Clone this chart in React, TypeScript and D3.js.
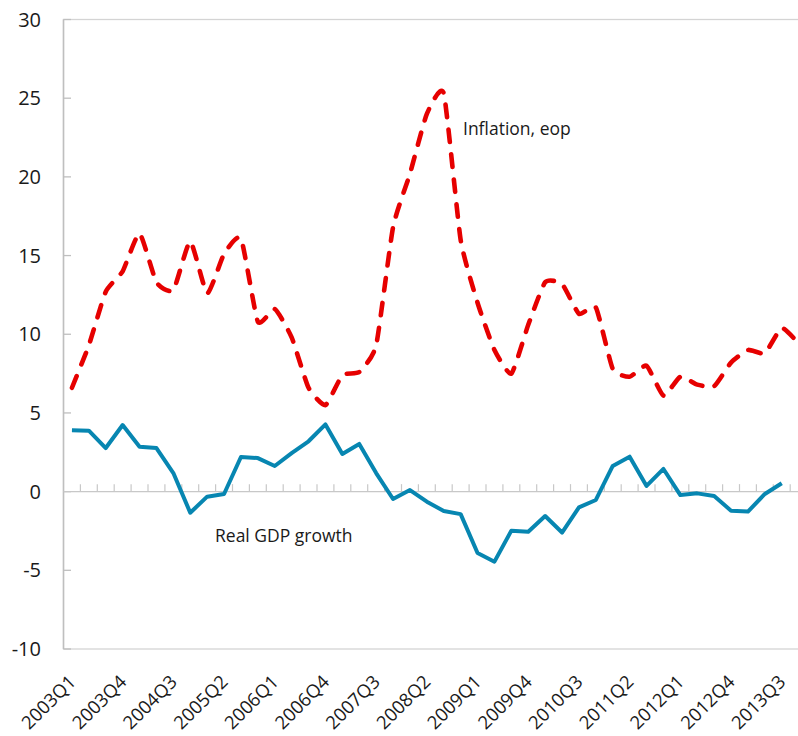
import React from "react";
import * as d3 from "d3";

// Quarters 2003Q1 .. 2013Q4
const years = d3.range(2003, 2014);
const quarters: string[] = years.flatMap((y) => [1, 2, 3, 4].map((q) => `${y}Q${q}`));

// Inflation, end of period (%)
const inflation: number[] = [
  6.6, 9.3, 12.7, 14.0, 16.4, 13.3, 12.8, 15.9, 12.6, 15.1, 16.1, 10.8,
  11.6, 9.8, 6.6, 5.5, 7.4, 7.6, 9.3, 16.8, 20.2, 24.0, 25.3, 16.0,
  12.0, 9.0, 7.5, 10.6, 13.3, 13.2, 11.3, 11.7, 7.8, 7.3, 8.0, 6.1,
  7.3, 6.8, 6.7, 8.2, 9.0, 8.8, 10.4, 9.4,
];

// Real GDP growth (%)
const gdp: number[] = [
  3.9, 3.87, 2.77, 4.23, 2.85, 2.77, 1.18, -1.34, -0.32, -0.15, 2.2, 2.13,
  1.63, 2.45, 3.2, 4.27, 2.39, 3.03, 1.18, -0.47, 0.1, -0.64, -1.23, -1.43,
  -3.9, -4.45, -2.48, -2.55, -1.55, -2.6, -1.0, -0.53, 1.63, 2.22, 0.36, 1.44,
  -0.22, -0.11, -0.28, -1.21, -1.27, -0.15, 0.53,
];

const yTicks: number[] = [-10, -5, 0, 5, 10, 15, 20, 25, 30];

const W = 798;
const H = 736;
const left = 63.5;
const top = 19.5;
const bottom = 649;
const step = 16.9;
const right = left + step * quarters.length;

const FONT = "'Open Sans', 'Noto Sans', sans-serif";

export default function App() {
  const x = d3.scaleBand<string>().domain(quarters).range([left, right]).padding(0);
  const y = d3.scaleLinear().domain([-10, 30]).range([bottom, top]);
  const cx = (i: number) => (x(quarters[i]) as number) + x.bandwidth() / 2;

  const inflLine = d3
    .line<number>()
    .x((_, i) => cx(i))
    .y((d) => y(d))
    .curve(d3.curveCardinal.tension(0.5));

  const gdpLine = d3
    .line<number>()
    .x((_, i) => cx(i))
    .y((d) => y(d));

  const labelIdx = quarters.map((_, i) => i).filter((i) => i % 3 === 0);
  const y0 = y(0);

  return (
    <svg
      width={W}
      height={H}
      style={{ position: "absolute", left: 0, top: 0, background: "#fff" }}
      fontFamily={FONT}
    >
      {/* plot area frame */}
      <rect x={left} y={top} width={right - left} height={bottom - top} fill="none" stroke="#d4d4d4" strokeWidth={1.3} />
      {/* value axis */}
      <line x1={left} x2={left} y1={top} y2={bottom} stroke="#bfbfbf" strokeWidth={1.5} />
      {yTicks.map((t) => (
        <g key={t}>
          <line x1={left} x2={left + 7.5} y1={y(t)} y2={y(t)} stroke="#bfbfbf" strokeWidth={1.3} />
          <text x={41} y={y(t)} dy="0.35em" textAnchor="end" fontSize={20} fill="#1a1a1a">
            {t}
          </text>
        </g>
      ))}
      {/* category axis at zero */}
      <line x1={left} x2={right} y1={y0} y2={y0} stroke="#c8c8c8" strokeWidth={1.3} />
      {quarters.map((q) => (
        <line
          key={q}
          x1={(x(q) as number) + step}
          x2={(x(q) as number) + step}
          y1={y0}
          y2={y0 - 7.5}
          stroke="#c8c8c8"
          strokeWidth={1.2}
        />
      ))}
      {labelIdx.map((i) => (
        <text
          key={quarters[i]}
          transform={`translate(${cx(i) + 5},${683}) rotate(-45)`}
          textAnchor="end"
          fontSize={18.5}
          fill="#1a1a1a"
        >
          {quarters[i]}
        </text>
      ))}
      {/* series */}
      <path d={gdpLine(gdp) ?? ""} fill="none" stroke="#0786b1" strokeWidth={4} strokeLinejoin="round" />
      <path
        d={inflLine(inflation) ?? ""}
        fill="none"
        stroke="#e60000"
        strokeWidth={4.6}
        strokeDasharray="12.5 12.5"
        strokeLinecap="round"
        strokeLinejoin="round"
      />
      <text x={463} y={135} fontSize={17.5} fill="#1a1a1a">
        Inflation, eop
      </text>
      <text x={215} y={542} fontSize={17.5} fill="#1a1a1a">
        Real GDP growth
      </text>
    </svg>
  );
}
